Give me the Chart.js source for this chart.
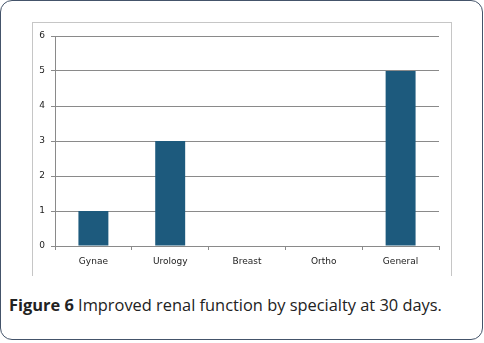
<!DOCTYPE html>
<html lang="en">
<head>
    <meta charset="UTF-8">
    <title>Figure 6</title>
    <script src="https://cdn.jsdelivr.net/npm/chart.js"></script>
    <style>
        html, body { margin: 0; padding: 0; background: #fff; }
        body { width: 484px; height: 343px; position: relative; overflow: hidden; }

        /* rounded card round the figure */
        .card {
            position: absolute;
            left: 0; top: 0;
            width: 481px; height: 338px;
            border: 1.5px solid #44546a;
            border-radius: 12px;
        }

        /* grey frame of the pasted chart image */
        .frame {
            position: absolute;
            left: 32px; top: 22px;
            width: 418px; height: 253px;
            border: 1px solid #c6c6c6;
            border-bottom: none;
        }

        #chart { position: absolute; left: 32px; top: 23px; }

        .caption {
            position: absolute;
            left: 9px; top: 293px;
            font-family: 'Open Sans', sans-serif;
            font-size: 16.4px;
            color: #222;
            white-space: nowrap;
        }
        .caption b { font-weight: 700; }
    </style>
</head>
<body>
    <div class="card"></div>
    <div class="frame"></div>
    <canvas id="chart" width="419" height="252"></canvas>
    <div class="caption"><b>Figure 6</b> Improved renal function by specialty at 30 days.</div>

    <script>
// Chart data
const specialties = ["Gynae", "Urology", "Breast", "Ortho", "General"];
const improved = [1, 3, 0, 0, 5];
const yTicks = [0, 1, 2, 3, 4, 5, 6];

const gridGrey = "#8a8a8a";

new Chart(document.getElementById("chart").getContext("2d"), {
    type: "bar",
    data: {
        labels: specialties,
        datasets: [{
            data: improved,
            backgroundColor: "#1d5a7d",
            barPercentage: 0.39,
            categoryPercentage: 1.0
        }]
    },
    options: {
        responsive: false,
        animation: false,
        layout: { padding: { top: 13, right: 12, left: 0, bottom: 0 } },
        plugins: { legend: { display: false }, tooltip: { enabled: false } },
        scales: {
            x: {
                grid: { drawOnChartArea: false, color: gridGrey, tickLength: 4, offset: true },
                border: { color: gridGrey },
                ticks: {
                    color: "#222",
                    padding: 6,
                    maxRotation: 0,
                    font: { family: "DejaVu Sans", size: 9 }
                },
                afterFit: s => { s.height = 29; }
            },
            y: {
                min: yTicks[0],
                max: yTicks[yTicks.length - 1],
                afterBuildTicks: s => { s.ticks = yTicks.map(v => ({ value: v })); },
                grid: { color: gridGrey, tickLength: 4 },
                border: { color: gridGrey },
                ticks: {
                    color: "#222",
                    padding: 6,
                    font: { family: "DejaVu Sans", size: 9 }
                },
                afterFit: s => { s.width = 23; }
            }
        }
    }
});
    </script>
</body>
</html>
